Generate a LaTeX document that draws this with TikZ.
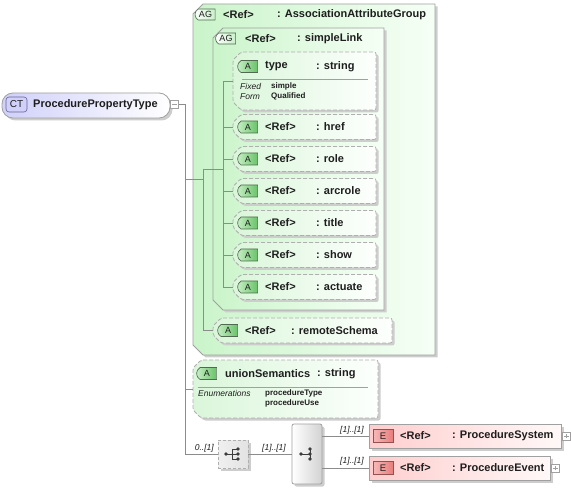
\documentclass[tikz,border=0pt]{standalone}
\usepackage{fontspec}
\setmainfont{Liberation Sans}
\usetikzlibrary{shapes.misc,shadows}
\definecolor{lineC}{RGB}{140,140,140}
\definecolor{grpC}{RGB}{160,160,160}
\definecolor{dashC}{RGB}{175,175,175}
\definecolor{shadC}{RGB}{205,205,205}
\definecolor{agL}{RGB}{202,244,202}
\definecolor{agR}{RGB}{246,255,246}
\definecolor{aL}{RGB}{218,246,218}
\definecolor{aR}{RGB}{253,255,253}
\definecolor{abL}{RGB}{200,240,200}
\definecolor{abR}{RGB}{105,195,105}
\definecolor{abD}{RGB}{80,105,80}
\definecolor{eL}{RGB}{255,205,205}
\definecolor{eR}{RGB}{255,248,248}
\definecolor{ebL}{RGB}{248,185,185}
\definecolor{ebR}{RGB}{232,125,125}
\definecolor{ebD}{RGB}{150,80,80}
\definecolor{ctL}{RGB}{208,208,250}
\definecolor{ctD}{RGB}{100,100,150}
\definecolor{iconC}{RGB}{60,60,60}
\definecolor{txtC}{RGB}{30,30,30}
% chamfered outline drawn round a placeholder node: #1 node, #2 chamfer, #3 style
\newcommand\chbox[3]{%
  \path[#3] ([xshift=#2]#1.north west) -- (#1.north east) -- (#1.south east)
    -- ([xshift=#2]#1.south west) -- ([yshift=#2]#1.south west)
    -- ([yshift=-#2]#1.north west) -- cycle;}
\tikzset{
  hdr/.style={font=\fontsize{11}{13}\selectfont\bfseries, inner sep=0pt, anchor=west, text=txtC},
  sm/.style={font=\fontsize{8}{9}\selectfont\bfseries, inner sep=0pt, anchor=west, text=txtC},
  smi/.style={font=\fontsize{8.5}{9}\selectfont\itshape, inner sep=0pt, anchor=west, text=txtC},
  bx/.style={anchor=north west, inner sep=0pt, outer sep=0pt},
  shad/.style={drop shadow={shadow xshift=2.5pt, shadow yshift=-2.5pt, fill=shadC, opacity=1}},
  agpath/.style={draw=grpC, line width=0.8pt, left color=agL, right color=agR, shad},
  apath/.style={draw=dashC, dash pattern=on 4pt off 2pt, line width=0.8pt, left color=aL, right color=aR, shad, rounded corners=2pt},
  ebox/.style={bx, draw=grpC, line width=0.8pt, left color=eL, right color=eR, shad},
  badgeshape/.style={rounded rectangle, rounded rectangle right arc=none, rounded rectangle arc length=120, line width=0.6pt, inner sep=0pt, font=\fontsize{9}{10}\selectfont, text=txtC},
  abadge/.style={badgeshape, draw=abD, left color=abL, right color=abR, minimum width=20pt, minimum height=12pt},
  agbadge/.style={badgeshape, draw=abD, left color=white, right color=abL, minimum width=20pt, minimum height=11pt},
  ebadge/.style={draw=ebD, line width=0.6pt, left color=ebL, right color=ebR, minimum width=20pt, minimum height=13pt, inner sep=0pt, font=\fontsize{9.5}{10}\selectfont, text=txtC},
  pmbox/.style={draw=grpC, fill=white, line width=0.6pt, minimum size=8pt, inner sep=0pt},
  conn/.style={draw=lineC, line width=0.8pt},
  divl/.style={draw=grpC, line width=0.7pt},
  ico/.style={draw=iconC, line width=0.8pt},
  dot/.style={fill=iconC}
}
\begin{document}
\begin{tikzpicture}[x=1pt,y=-1pt]
\useasboundingbox (0,0) rectangle (571,489);
\fill[white] (0,0) rectangle (571,489);

% complex type
\node[bx, rounded corners=11pt, draw=grpC, line width=0.8pt, left color=ctL, right color=white, shad, minimum width=168pt, minimum height=25pt] (ct) at (2,93) {};
\node[rectangle, rounded corners=3pt, draw=ctD, line width=0.6pt, fill=ctL, minimum width=21pt, minimum height=15pt, inner sep=0pt, font=\fontsize{10}{12}\selectfont, text=txtC] (ctb) at (16.5,104.5) {CT};
\node[hdr] (ctt) at (33,105) {ProcedurePropertyType};
\node[pmbox] (minus) at (174.5,104) {};
\draw[draw=grpC, line width=0.7pt] ([xshift=-2.2pt]minus.center) -- ([xshift=2.2pt]minus.center);

% outer attribute group
\node[bx, minimum width=242pt, minimum height=351pt] (agA) at (193,4) {};
\chbox{agA}{10pt}{agpath}
\node[agbadge] (agAb) at (205.5,14.5) {AG};
\node[hdr] (agAr) at (223,14.5) {<Ref>};
\node[hdr] (agAn) at (277,14.5) {: AssociationAttributeGroup};

% inner attribute group
\node[bx, minimum width=171pt, minimum height=282pt] (agB) at (213,28) {};
\chbox{agB}{10pt}{agpath}
\node[agbadge] (agBb) at (226,38.5) {AG};
\node[hdr] (agBr) at (245,38.5) {<Ref>};
\node[hdr] (agBn) at (297,38.5) {: simpleLink};

% type attribute
\node[bx, minimum width=143pt, minimum height=58pt] (ty) at (233,52) {};
\chbox{ty}{8pt}{apath}
\node[abadge] (tyb) at (248,66.5) {A};
\node[hdr] (tyr) at (265,66.5) {type};
\node[hdr] (tyn) at (316,66.5) {: string};
\draw[divl] (242,79) -- (368,79);
\node[smi] (tyf1) at (240,86.5) {Fixed};
\node[smi] (tyf2) at (240,96.5) {Form};
\node[sm] (tyv1) at (271,86.5) {simple};
\node[sm] (tyv2) at (271,96.5) {Qualified};

% other attributes
\foreach \c/\n/\nm in {127/href/hr,159/role/ro,191/arcrole/arc,223/title/ti,255/show/sh,287/actuate/ac}{
  \node[bx, minimum width=143pt, minimum height=25pt] (a\nm) at (233,\c-12.5) {};
  \chbox{a\nm}{8pt}{apath}
  \node[abadge] (b\nm) at (248,\c) {A};
  \node[hdr] (r\nm) at (265,\c) {<Ref>};
  \node[hdr] (n\nm) at (316,\c) {: \n};
}

% remoteSchema
\node[bx, minimum width=179pt, minimum height=25pt] (rs) at (213,318) {};
\chbox{rs}{8pt}{apath}
\node[abadge] (rsb) at (228,330.5) {A};
\node[hdr] (rsr) at (245,330.5) {<Ref>};
\node[hdr] (rsn) at (291,330.5) {: remoteSchema};

% unionSemantics
\node[bx, minimum width=185pt, minimum height=58pt] (us) at (193,360) {};
\chbox{us}{8pt}{apath}
\node[abadge] (usb) at (207,373.5) {A};
\node[hdr] (usr) at (225,373.5) {unionSemantics};
\node[hdr] (usn) at (317,373.5) {: string};
\draw[divl] (198,387) -- (368,387);
\node[smi] (use) at (198,393.5) {Enumerations};
\node[sm] (usv1) at (265,393.5) {procedureType};
\node[sm] (usv2) at (265,403.5) {procedureUse};

% choice
\node[bx, draw=dashC, dash pattern=on 3pt off 2pt, line width=0.8pt, left color=gray!12, right color=gray!22, shad, minimum width=30pt, minimum height=28pt] (ch) at (218,440) {};
\fill[dot] ([xshift=-7pt]ch.center) circle (1.8pt);
\draw[ico] ([xshift=-7pt]ch.center) -- ([xshift=-1pt]ch.center);
\draw[ico] ([xshift=-1pt,yshift=5pt]ch.center) -- ([xshift=-1pt,yshift=-5pt]ch.center);
\foreach \dy in {-5,0,5}{
  \draw[ico] ([xshift=-1pt,yshift=\dy pt]ch.center) -- ([xshift=4pt,yshift=\dy pt]ch.center);
  \fill[dot] ([xshift=5pt,yshift=\dy pt]ch.center) circle (1.8pt);
}

% sequence
\node[bx, draw=grpC, rounded corners=2pt, line width=0.8pt, left color=white, right color=gray!35, shad, minimum width=30pt, minimum height=60pt] (sq) at (292,424) {};
\fill[dot] ([xshift=-6pt]sq.center) circle (1.8pt);
\draw[ico] ([xshift=-6pt]sq.center) -- ([xshift=3pt]sq.center);
\draw[ico] ([xshift=3pt,yshift=5pt]sq.center) -- ([xshift=3pt,yshift=-5pt]sq.center);
\foreach \dy in {-5,0,5}{
  \fill[dot] ([xshift=3pt,yshift=\dy pt]sq.center) circle (1.8pt);
}

% elements
\node[ebox, minimum width=192pt, minimum height=24pt] (ps) at (369,424) {};
\node[ebadge] (psb) at (383,436) {E};
\node[hdr] (psr) at (400,436) {<Ref>};
\node[hdr] (psn) at (452,436) {: ProcedureSystem};
\node[pmbox] (psp) at (566.5,436) {};
\draw[draw=grpC, line width=0.7pt] ([xshift=-2.2pt]psp.center) -- ([xshift=2.2pt]psp.center) ([yshift=-2.2pt]psp.center) -- ([yshift=2.2pt]psp.center);

\node[ebox, minimum width=181pt, minimum height=24pt] (pe) at (369,456) {};
\node[ebadge] (peb) at (383,468) {E};
\node[hdr] (per) at (400,468) {<Ref>};
\node[hdr] (pen) at (452,468) {: ProcedureEvent};
\node[pmbox] (pep) at (555.5,468) {};
\draw[draw=grpC, line width=0.7pt] ([xshift=-2.2pt]pep.center) -- ([xshift=2.2pt]pep.center) ([yshift=-2.2pt]pep.center) -- ([yshift=2.2pt]pep.center);

% cardinality labels
\node[smi, anchor=east] (l0) at (214,448) {0..[1]};
\node[smi] (l1) at (262,448) {[1]..[1]};
\node[smi] (l2) at (340,430) {[1]..[1]};
\node[smi] (l3) at (340,461) {[1]..[1]};

% connectors
\coordinate (j0) at (185,104);
\coordinate (j1) at (203,169);
\coordinate (j2) at (223,169);
\draw[conn] (minus.east) -- (j0) -- (j0 |- ch.west) -- (ch.west);
\draw[conn] (j0 |- agA.west) -- (j1 |- agA.west);
\draw[conn] (j1) -- (j1 |- rs.west) -- (rs.west);
\draw[conn] (j1) -- (j2);
\draw[conn] (ty.west) -- (j2 |- ty.west) -- (j2 |- aac.west) -- (aac.west);
\foreach \nm in {hr,ro,arc,ti,sh}{
  \draw[conn] (j2 |- a\nm.west) -- (a\nm.west);
}
\draw[conn] (j0 |- us.west) -- (us.west);
\draw[conn] (ch.east) -- (sq.west);
\draw[conn] (sq.east |- ps.west) -- (ps.west);
\draw[conn] (sq.east |- pe.west) -- (pe.west);
\end{tikzpicture}
\end{document}
